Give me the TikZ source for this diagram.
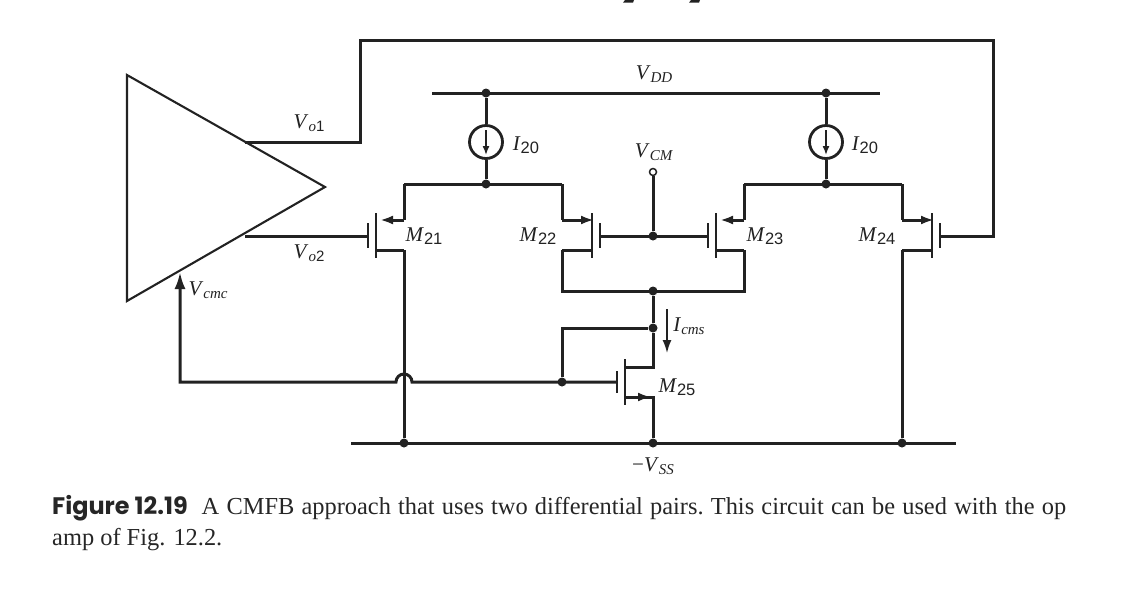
\documentclass[tikz,border=0pt]{standalone}
\usepackage{fontspec}
\setmainfont{Liberation Serif}
\setsansfont{Liberation Sans}
\newfontfamily\figfont{Poppins}
\usetikzlibrary{arrows.meta}
\definecolor{inkc}{HTML}{222222}
\newcommand{\lab}[2]{\textit{#1}\raisebox{-3.5pt}{\fontsize{15}{15}\selectfont #2}}
\newcommand{\labn}[2]{\textit{#1}\raisebox{-3.5pt}{\fontsize{16.5}{16}\selectfont\sffamily #2}}
\newcommand{\labo}[1]{\textit{V}\raisebox{-3.5pt}{\fontsize{15}{15}\selectfont\textit{o}\sffamily #1}}
\tikzset{
  wire/.style={line width=3pt,color=inkc,line join=miter},
  chan/.style={line width=2.1pt,color=inkc},
  dot/.style={circle,fill=inkc,inner sep=0pt,minimum size=9pt},
  txt/.style={inner sep=0pt,text=inkc,font=\fontsize{21}{21}\selectfont},
  capt/.style={inner sep=0pt,anchor=base west,text=black!85,font=\fontsize{24.4}{25}\selectfont},
  csrc/.style={circle,draw=inkc,line width=2.8pt,minimum size=33pt,inner sep=0pt},
}
\begin{document}
\begin{tikzpicture}[x=1pt,y=-1pt,>={Latex[length=13pt,width=9pt]}]
    \useasboundingbox(0,0)rectangle(1146,590);
    % cut off text at the page top
    \fill[inkc](623,2.7)--(625,0)--(634,0)--(633,2.7)--cycle;
    \fill[inkc](689,2.7)--(691,0)--(700,0)--(699,2.7)--cycle;
    % amplifier
    \draw[chan](127,75)--(325,187)--(127,301)--cycle;
    \coordinate(vo1)at(245,142);
    \coordinate(vo2)at(245,236);
    \coordinate(fbin)at(180,272);
    \coordinate(fbc)at(180,382);
    % rails
    \coordinate(vddl)at(432,93);
    \coordinate(vddr)at(880,93);
    \coordinate(vssl)at(351,443);
    \coordinate(vssr)at(956,443);
    \draw[wire](vddl)--(vddr);
    \draw[wire](vssl)--(vssr);
    % current sources
    \foreach \nm/\xa in {p/486,q/826}{
        \node[dot](\nm top)at(\xa,93){};
        \node[csrc](\nm src)at(\xa,142){};
        \node[dot](\nm tail)at(\xa,184){};
        \draw[wire](\nm top)--(\nm src.north);
        \draw[wire](\nm src.south)--(\nm tail);
        \draw[->,>={Latex[length=9pt,width=7pt]},line width=1.5pt,color=inkc](\xa,130)--(\xa,155);
    }
    % pair devices: name/channel/gate plate/outer wire
    \foreach \nm/\xc/\xg/\xw in {ma/376/368/404,mb/592/600/562,mc/716/708/744,md/932/940/902}{
        \draw[chan](\xc,213)--(\xc,258);
        \draw[chan](\xg,223)--(\xg,248);
        \coordinate(\nm g)at(\xg,236);
        \coordinate(\nm c)at(\xc,220);
        \coordinate(\nm e)at(\xc,250);
        \coordinate(\nm s)at(\xw,220);
        \coordinate(\nm d)at(\xw,250);
        \draw[wire](\nm d)--(\nm e);
    }
    \foreach \nm/\xt in {ma/4,mb/-2,mc/4,md/-2}{
        \draw[->,wire,shorten >=\xt pt](\nm s)--(\nm c);
    }
    \draw[wire](mas|-ptail)--(mas);
    \draw[wire](mbs|-ptail)--(mbs);
    \draw[wire](mcs|-qtail)--(mcs);
    \draw[wire](mds|-qtail)--(mds);
    \draw[wire](mas|-ptail)--(mbs|-ptail);
    \draw[wire](mcs|-qtail)--(mds|-qtail);
    % tail of the pairs
    \node[dot](nx)at(653,291){};
    \node[dot](ny)at(653,328){};
    \node[dot](nz)at(562,382){};
    \node[dot](nv)at(653,443){};
    \node[dot](nl)at(404,443){};
    \node[dot](nr)at(902,443){};
    \node[dot](ng)at(653,236){};
    \draw[wire](mbd)--(mbd|-nx)--(mcd|-nx)--(mcd);
    \draw[wire](mbg)--(mcg);
    \draw[wire](mad)--(nl);
    \draw[wire](mdd)--(nr);
    \draw[wire](nx)--(ny);
    % M25
    \coordinate(mec)at(625,367);
    \coordinate(mee)at(625,397);
    \coordinate(meg)at(617,382);
    \draw[chan](625,359)--(625,405);
    \draw[chan](617,371)--(617,393);
    \draw[wire](ny)--(ny|-mec)--(mec);
    \draw[wire](mee)--(nv|-mee)--(nv);
    \draw[->,wire](mee)--(651,397);
    \draw[wire](ny)-|(nz);
    \draw[wire](meg)--(412,382)arc(0:-180:8)--(fbc)--(180,285);
    \draw[->,>={Latex[length=17pt,width=11pt]},wire](180,285)--(fbin);
    % feedback and outputs
    \draw[wire](vo1)-|(360,40)-|(993,236)--(mdg);
    \draw[wire](vo2)--(mag);
    \node[circle,draw=inkc,line width=1.5pt,fill=white,inner sep=0pt,minimum size=7pt](vcm)at(653,172){};
    \draw[wire](vcm)--(ng);
    \coordinate(iup)at(667,309);
    \coordinate(idn)at(667,353);
    \draw[->,line width=1.6pt,color=inkc](iup)--(idn);
    % labels
    \node[txt](lvo1)at(309,123){\labo{1}};
    \node[txt](lvo2)at(309,253){\labo{2}};
    \node[txt](lvc)at(208,290){\lab{V}{\textit{cmc}}};
    \node[txt](lvdd)at(654,74){\lab{V}{\textit{DD}}};
    \node[txt](lvcm)at(654,152){\lab{V}{\textit{CM}}};
    \node[txt](lip)at(526,145){\labn{I}{20}};
    \node[txt](liq)at(865,145){\labn{I}{20}};
    \node[txt](lma)at(424,236){\labn{M}{21}};
    \node[txt](lmb)at(538,236){\labn{M}{22}};
    \node[txt](lmc)at(765,236){\labn{M}{23}};
    \node[txt](lmd)at(877,236){\labn{M}{24}};
    \node[txt](lme)at(677,387){\labn{M}{25}};
    \node[txt](lic)at(689,326){\lab{I}{\textit{cms}}};
    \node[txt](lvs)at(653,466){\lab{\textup{−}V}{\textit{SS}}};
    % caption
    \node[capt](cap)at(52,514.5){{\figfont\bfseries\fontsize{23.9}{25}\selectfont Figure 12.19}\hspace{14pt}\frenchspacing\spaceskip=7.2pt A CMFB approach that uses two differential pairs. This circuit can be used with the op};
    \node[capt](capb)at(52,545){amp of Fig. 12.2.};
\end{tikzpicture}
\end{document}
